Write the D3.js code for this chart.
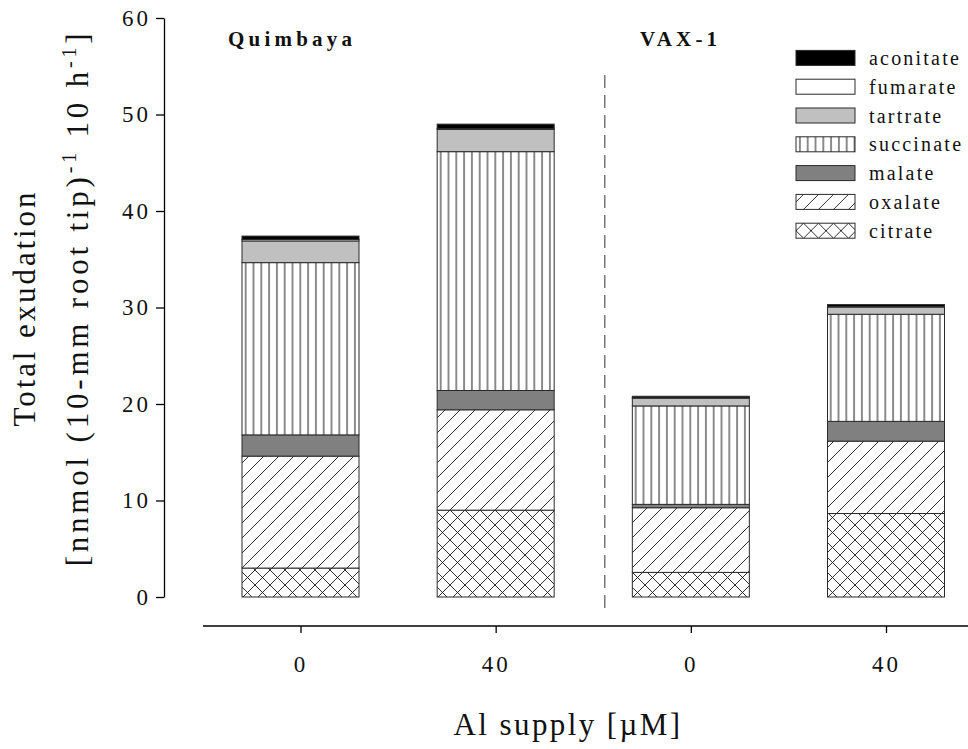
<!DOCTYPE html>
<html>
<head>
<meta charset="utf-8">
<script src="https://cdn.jsdelivr.net/npm/d3@7"></script>
<style>
  html, body { margin: 0; padding: 0; background: #fff; }
  svg { display: block; }
  text { font-family: "Liberation Serif", "Times New Roman", serif; fill: #111; }
</style>
</head>
<body>
<svg id="chart" width="968" height="749"></svg>
<script>
// Organic acid exudation per treatment, stacked bottom to top
const cultivars = ["Quimbaya", "Quimbaya", "VAX-1", "VAX-1"];
const alSupply = ["0", "40", "0", "40"];
const treatments = ["Q-0", "Q-40", "V-0", "V-40"];

const citrate   = [3.0, 9.0, 2.55, 8.65];
const oxalate   = [11.6, 10.4, 6.7, 7.5];
const malate    = [2.2, 2.0, 0.35, 2.05];
const succinate = [17.85, 24.75, 10.2, 11.1];
const tartrate  = [2.25, 2.3, 0.8, 0.75];
const fumarate  = [0.15, 0.1, 0.05, 0.05];
const aconitate = [0.35, 0.45, 0.15, 0.2];

const acidKeys = ["citrate", "oxalate", "malate", "succinate", "tartrate", "fumarate", "aconitate"];
const legendOrder = ["aconitate", "fumarate", "tartrate", "succinate", "malate", "oxalate", "citrate"];
const yTicks = [0, 10, 20, 30, 40, 50, 60];
const groupTitles = ["Quimbaya", "VAX-1"];

const seriesByKey = { citrate, oxalate, malate, succinate, tartrate, fumarate, aconitate };
const rows = treatments.map((t, i) => {
  const r = { treatment: t, supply: alSupply[i], cultivar: cultivars[i] };
  acidKeys.forEach(k => r[k] = seriesByKey[k][i]);
  return r;
});

const svg = d3.select("#chart");

// ---- fill patterns ----
const defs = svg.append("defs");
const ink = "#1a1a1a";

const pv = defs.append("pattern").attr("id", "p-succinate")
  .attr("patternUnits", "userSpaceOnUse").attr("width", 7.8).attr("height", 10);
pv.append("rect").attr("width", 7.8).attr("height", 10).attr("fill", "#fff");
pv.append("line").attr("x1", 3.9).attr("x2", 3.9).attr("y1", 0).attr("y2", 10)
  .attr("stroke", ink).attr("stroke-width", 1);

const P = 15;
const pd = defs.append("pattern").attr("id", "p-oxalate")
  .attr("patternUnits", "userSpaceOnUse").attr("width", P).attr("height", P);
pd.append("rect").attr("width", P).attr("height", P).attr("fill", "#fff");
pd.append("path")
  .attr("d", `M0,${P} L${P},0 M${-P/4},${P/4} L${P/4},${-P/4} M${3*P/4},${5*P/4} L${5*P/4},${3*P/4}`)
  .attr("stroke", ink).attr("stroke-width", 0.9);

const pc = defs.append("pattern").attr("id", "p-citrate")
  .attr("patternUnits", "userSpaceOnUse").attr("width", P).attr("height", P);
pc.append("rect").attr("width", P).attr("height", P).attr("fill", "#fff");
pc.append("path")
  .attr("d", `M0,${P} L${P},0 M${-P/4},${P/4} L${P/4},${-P/4} M${3*P/4},${5*P/4} L${5*P/4},${3*P/4}` +
             ` M0,0 L${P},${P} M${-P/4},${3*P/4} L${P/4},${5*P/4} M${3*P/4},${-P/4} L${5*P/4},${P/4}`)
  .attr("stroke", ink).attr("stroke-width", 0.9);

const fills = {
  aconitate: "#000",
  fumarate: "#fff",
  tartrate: "#c0c0c0",
  succinate: "url(#p-succinate)",
  malate: "#808080",
  oxalate: "url(#p-oxalate)",
  citrate: "url(#p-citrate)"
};

// ---- scales ----
const y = d3.scaleLinear().domain([0, 60]).range([597, 18]);
const x = d3.scalePoint().domain(treatments).range([300.5, 886]);
const barW = 117;

// ---- bars ----
const stacked = d3.stack().keys(acidKeys)(rows);
svg.append("g").selectAll("g")
  .data(stacked).join("g")
  .attr("fill", d => fills[d.key])
  .selectAll("rect")
  .data(d => d).join("rect")
  .attr("x", d => x(d.data.treatment) - barW / 2)
  .attr("width", barW)
  .attr("y", d => y(d[1]))
  .attr("height", d => y(d[0]) - y(d[1]))
  .attr("stroke", "#2a2a2a")
  .attr("stroke-width", 1);

// ---- y axis ----
const yAxis = svg.append("g")
  .attr("transform", "translate(164,0)")
  .call(d3.axisLeft(y).tickValues(yTicks).tickSize(8).tickSizeOuter(0).tickPadding(5));
yAxis.select(".domain").attr("stroke", "#000").attr("stroke-width", 1.3);
yAxis.selectAll(".tick line").attr("stroke", "#000").attr("stroke-width", 1.3);
yAxis.selectAll(".tick text")
  .style("font-family", "'Liberation Serif', serif")
  .attr("font-size", 23).attr("letter-spacing", 3).attr("fill", "#111");

// ---- x axis ----
const xAxis = svg.append("g")
  .attr("transform", "translate(0,626)")
  .call(d3.axisBottom(x).tickSize(7).tickSizeOuter(0).tickPadding(23)
    .tickFormat(t => alSupply[treatments.indexOf(t)]));
xAxis.select(".domain").attr("d", "M203,0H968").attr("stroke", "#000").attr("stroke-width", 1.3);
xAxis.selectAll(".tick line").attr("stroke", "#000").attr("stroke-width", 1.3);
xAxis.selectAll(".tick text")
  .style("font-family", "'Liberation Serif', serif")
  .attr("font-size", 23).attr("letter-spacing", 3).attr("fill", "#111");

// ---- divider between cultivars ----
const divX = x("V-0") - 86;
svg.append("line")
  .attr("x1", divX).attr("x2", divX)
  .attr("y1", 75).attr("y2", 615)
  .attr("stroke", "#333").attr("stroke-width", 1)
  .attr("stroke-dasharray", "13,7");

// ---- cultivar titles ----
svg.append("text").attr("x", 228).attr("y", 46)
  .attr("font-size", 21).attr("font-weight", "bold").attr("letter-spacing", 4.2)
  .text(groupTitles[0]);
svg.append("text").attr("x", 640).attr("y", 46)
  .attr("font-size", 21).attr("font-weight", "bold").attr("letter-spacing", 4.2)
  .text(groupTitles[1]);

// ---- axis titles ----
svg.append("text")
  .attr("x", 568).attr("y", 735)
  .attr("text-anchor", "middle")
  .attr("font-size", 31).attr("letter-spacing", 2.4)
  .text("Al supply [µM]");

svg.append("text")
  .attr("transform", "translate(35,308) rotate(-90)")
  .attr("text-anchor", "middle")
  .attr("font-size", 31).attr("letter-spacing", 2.9)
  .text("Total exudation");

const yt2 = svg.append("text")
  .attr("transform", "translate(88,298) rotate(-90)")
  .attr("text-anchor", "middle")
  .attr("font-size", 31).attr("letter-spacing", 3.8);
yt2.append("tspan").text("[nnmol (10-mm root tip)");
yt2.append("tspan").attr("font-size", 20).attr("dy", -12).text("-1");
yt2.append("tspan").attr("dy", 12).text(" 10 h");
yt2.append("tspan").attr("font-size", 20).attr("dy", -12).text("-1");
yt2.append("tspan").attr("dy", 12).text("]");

// ---- legend ----
const legend = svg.append("g");
const lg = legend.selectAll("g").data(legendOrder).join("g")
  .attr("transform", (d, i) => `translate(796,${57.9 + i * 28.8})`);
lg.append("rect")
  .attr("x", 0).attr("y", -7.5).attr("width", 59).attr("height", 15)
  .attr("fill", d => fills[d]).attr("stroke", "#2a2a2a").attr("stroke-width", 1);
lg.append("text")
  .attr("x", 73).attr("y", 7)
  .attr("font-size", 20).attr("letter-spacing", 2.2)
  .text(d => d);
</script>
</body>
</html>
